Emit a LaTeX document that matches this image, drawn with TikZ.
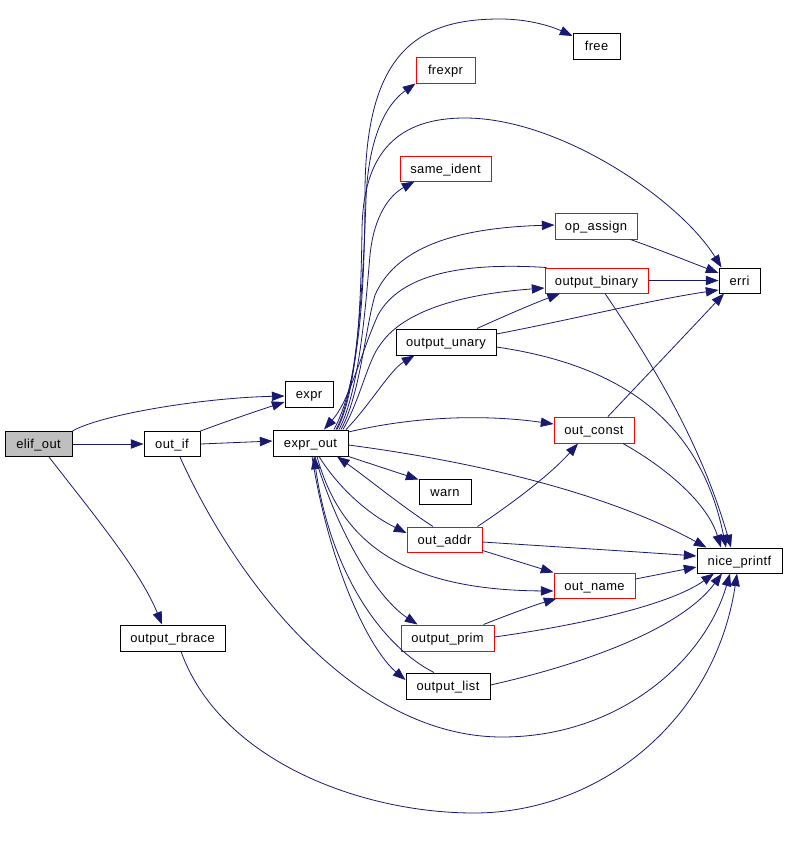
\documentclass[tikz,border=0pt]{standalone}
\usepackage{fontspec}
\setmainfont{Liberation Sans}[LetterSpace=3]
\usetikzlibrary{arrows.meta,calc}
\definecolor{edgeblue}{HTML}{191970}
\definecolor{nodegray}{HTML}{BFBFBF}
\begin{document}
\begin{tikzpicture}[x=0.75pt,y=-0.75pt,
  fn/.style={draw=black,line width=0.75pt,inner sep=0pt,minimum height=25*0.75pt,
    font=\fontsize{9.7}{11}\selectfont,text=black,text height=8.6pt,text depth=1.4pt},
  rn/.style={fn,draw=red},
  e/.style={draw=edgeblue,line width=0.6pt,-{Triangle[length=9.5pt,width=7pt]},fill=none},
  ]
\fill[white] (0,0) rectangle (786,847);
\useasboundingbox (0,0) rectangle (786,847);
% nodes
\node[fn,fill=nodegray,minimum width=67*0.75pt] (elif_out) at (38.5,444) {elif\_out};
\node[fn,minimum width=56*0.75pt] (out_if) at (172,444) {out\_if};
\node[fn,minimum width=48*0.75pt,minimum height=26*0.75pt] (expr) at (309,394) {expr};
\node[fn,minimum width=75*0.75pt,minimum height=26*0.75pt] (expr_out) at (310.5,443) {expr\_out};
\node[fn,minimum width=47*0.75pt,minimum height=26*0.75pt] (free) at (596.5,46) {free};
\node[rn,minimum width=59*0.75pt,minimum height=26*0.75pt] (frexpr) at (445.5,70) {frexpr};
\node[rn,minimum width=91*0.75pt] (same_ident) at (445.5,168.5) {same\_ident};
\node[rn,minimum width=82*0.75pt,minimum height=26*0.75pt] (op_assign) at (596,226) {op\_assign};
\node[rn,minimum width=103*0.75pt] (output_binary) at (596.5,280.5) {output\_binary};
\node[fn,minimum width=41*0.75pt] (erri) at (739.5,280.5) {erri};
\node[fn,minimum width=100*0.75pt,minimum height=26*0.75pt] (output_unary) at (446,342) {output\_unary};
\node[rn,minimum width=80*0.75pt,minimum height=26*0.75pt] (out_const) at (594,430) {out\_const};
\node[fn,minimum width=52*0.75pt] (warn) at (445,491.5) {warn};
\node[rn,minimum width=75*0.75pt] (out_addr) at (444.5,539.5) {out\_addr};
\node[fn,minimum width=85*0.75pt] (nice_printf) at (739.5,560.5) {nice\_printf};
\node[rn,minimum width=81*0.75pt] (out_name) at (594.5,585.5) {out\_name};
\node[rn,minimum width=93*0.75pt,minimum height=26*0.75pt] (output_prim) at (447.5,638) {output\_prim};
\node[fn,minimum width=84*0.75pt,minimum height=26*0.75pt] (output_list) at (448,686) {output\_list};
\node[fn,minimum width=105*0.75pt,minimum height=26*0.75pt] (output_rbrace) at (172.5,638) {output\_rbrace};
% edges from elif_out and out_if
\draw[e] (elif_out.north east) .. controls (100,415) and (200,398) .. ($(expr.west)+(0,2)$);
\draw[e] (elif_out.east) -- (out_if.west);
\draw[e] ($(elif_out.south)+(10.5,0)$) .. controls (90,510) and (140,570) .. ($(output_rbrace.north)+(-10.5,0)$);
\draw[e] (out_if.north east) .. controls (230,420) and (260,410) .. ($(expr.west)+(0,8)$);
\draw[e] (out_if.east) -- ($(expr_out.west)+(0,-2)$);
\draw[e] ($(out_if.south)+(8,0)$) .. controls (240,590) and (360,737) .. (502,737) .. controls (620,737) and (705,660) .. ($(nice_printf.south)+(-9.5,0)$);
\draw[e] ($(output_rbrace.south)+(8.5,0)$) .. controls (220,760) and (360,813) .. (474,813) .. controls (600,813) and (715,720) .. ($(nice_printf.south)+(-2.5,0)$);
% edges from expr_out going up
\draw[e] ($(expr_out.north)+(23.5,0)$) .. controls (358,385) and (365,300) .. (365,190) .. controls (366,50) and (420,19) .. (500,19) .. controls (530,19) and (553,27) .. ($(free.west)+(0,-10)$);
\draw[e] ($(expr_out.north)+(26.5,0)$) .. controls (358,390) and (361,300) .. (362,230) .. controls (363,150) and (400,118) .. (465,118) .. controls (560,118) and (680,200) .. ($(erri.north west)+(3,0)$);
\draw[e] ($(expr_out.north)+(25.5,0)$) .. controls (358,390) and (363,280) .. (366,200) .. controls (368,140) and (385,105) .. (frexpr.south west);
\draw[e] ($(expr_out.north)+(28.5,0)$) .. controls (360,390) and (366,300) .. (370,255) .. controls (374,215) and (390,195) .. ($(same_ident.south west)+(15,0)$);
\draw[e] ($(expr_out.north)+(30.5,0)$) .. controls (360,395) and (365,330) .. (375,295) .. controls (395,250) and (450,228) .. ($(op_assign.west)+(0,-1)$);
\draw[e] ($(expr_out.north)+(32.5,0)$) .. controls (360,400) and (368,360) .. (380,345) .. controls (400,315) and (450,295) .. ($(output_binary.west)+(0,7.5)$);
\draw[e] ($(output_binary.north west)+(2,0)$) .. controls (460,262) and (400,275) .. (378,315) .. controls (362,350) and (350,400) .. ($(expr_out.north)+(13.5,0)$);
\draw[e] ($(expr_out.north)+(35.5,0)$) .. controls (370,405) and (390,370) .. ($(output_unary.south west)+(19,0)$);
% edges from output_unary, op_assign, output_binary, out_const
\draw[e] ($(output_unary.north)+(31,0)$) .. controls (500,318) and (530,305) .. ($(output_binary.south)+(-36.5,0)$);
\draw[e] ($(output_unary.east)+(0,-8)$) .. controls (570,320) and (650,300) .. ($(erri.west)+(0,9.5)$);
\draw[e] ($(output_unary.east)+(0,5)$) .. controls (620,365) and (700,420) .. ($(nice_printf.north)+(-13.5,0)$);
\draw[e] ($(op_assign.south east)+(-7,0)$) .. controls (660,250) and (690,262) .. ($(erri.west)+(0,-7.5)$);
\draw[e] (output_binary.east) -- (erri.west);
\draw[e] ($(output_binary.south)+(8.5,0)$) .. controls (650,360) and (700,440) .. ($(nice_printf.north)+(-8.5,0)$);
\draw[e] ($(out_const.north)+(14,0)$) .. controls (650,372) and (690,330) .. ($(erri.south)+(-15.5,0)$);
\draw[e] ($(out_const.south)+(29,0)$) .. controls (670,470) and (708,505) .. ($(nice_printf.north)+(-18.5,0)$);
% expr_out to the right and below
\draw[e] ($(expr_out.east)+(0,2)$) .. controls (500,465) and (620,500) .. ($(nice_printf.north west)+(10,0)$);
\draw[e] ($(expr_out.east)+(0,-11)$) .. controls (420,415) and (490,415) .. ($(out_const.west)+(0,-6)$);
\draw[e] (expr_out.south east) -- ($(warn.north west)+(0,1)$);
\draw[e] ($(out_addr.north)+(-11.5,0)$) .. controls (400,505) and (370,480) .. ($(expr_out.south)+(26.5,0)$);
\draw[e] ($(expr_out.south)+(8.5,0)$) .. controls (340,490) and (370,515) .. ($(out_addr.west)+(0,-6.5)$);
\draw[e] ($(out_addr.north east)+(-5,0)$) .. controls (510,505) and (550,475) .. ($(out_const.south)+(-16,0)$);
\draw[e] ($(out_addr.east)+(0,2.5)$) .. controls (560,547) and (640,552) .. ($(nice_printf.west)+(0,-4.5)$);
\draw[e] ($(out_addr.south east)+(0,-2)$) -- (out_name.north west);
\draw[e] ($(expr_out.south)+(6.5,0)$) .. controls (340,540) and (400,590) .. ($(out_name.west)+(0,5.5)$);
\draw[e] ($(out_name.east)+(0,-6.5)$) -- ($(nice_printf.west)+(0,6.5)$);
\draw[e] ($(expr_out.south)+(4.5,0)$) .. controls (340,540) and (380,600) .. ($(output_prim.north west)+(17,0)$);
\draw[e] ($(expr_out.south)+(1.5,0)$) .. controls (330,570) and (370,650) .. ($(output_list.west)+(0,-6)$);
\draw[e] ($(output_list.north)+(-14,0)$) .. controls (380,645) and (330,570) .. ($(expr_out.south)+(3.5,0)$);
\draw[e] ($(output_prim.north east)+(-11,0)$) .. controls (510,614) and (535,605) .. ($(out_name.south west)+(3,0)$);
\draw[e] ($(output_prim.east)+(0,-1)$) .. controls (580,625) and (670,605) .. ($(nice_printf.south)+(-25.5,0)$);
\draw[e] ($(output_list.east)+(0,-1)$) .. controls (580,665) and (680,630) .. ($(nice_printf.south)+(-17.5,0)$);
\end{tikzpicture}
\end{document}
